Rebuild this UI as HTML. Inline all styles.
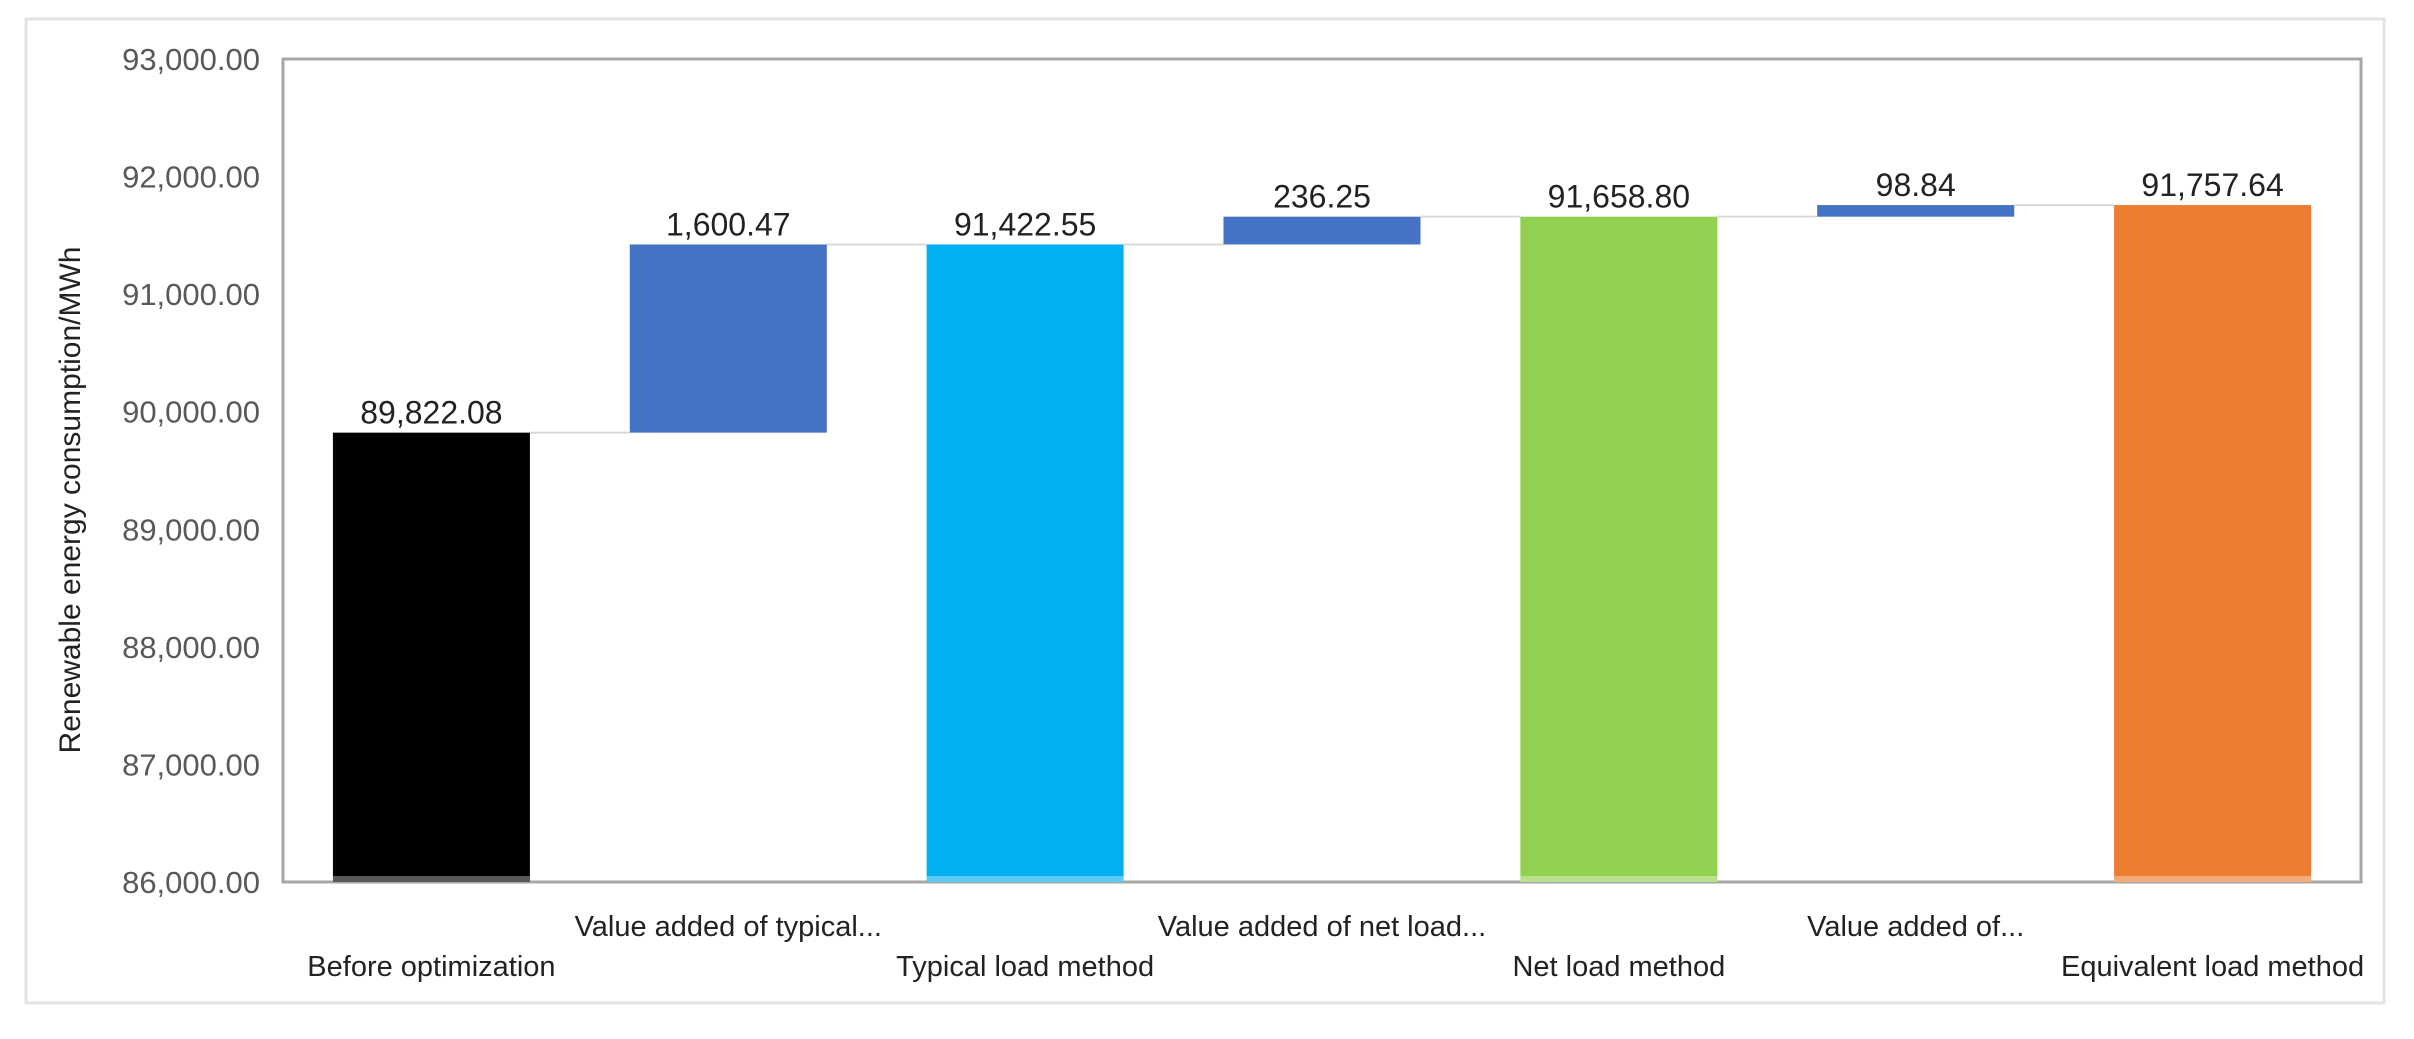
<!DOCTYPE html>
<html><head><meta charset="utf-8"><style>
html,body{margin:0;padding:0;background:#fff;}
svg{display:block;font-family:"Liberation Sans",sans-serif;}
</style></head><body>
<svg id="chart" width="2414" height="1039" viewBox="0 0 2414 1039">
<rect x="26" y="19" width="2358" height="984" fill="#fff" stroke="#e3e3e3" stroke-width="3"/>
<rect x="283" y="59" width="2078" height="823" fill="#fff" stroke="#a6a6a6" stroke-width="3"/>
<g id="grid"></g>
<g id="bars"></g>
<g id="labels"></g>
<text x="80" y="500" transform="rotate(-90 80 500)" text-anchor="middle" font-size="30" fill="#222">Renewable energy consumption/MWh</text>
</svg>
<script>
const categories=["Before optimization","Value added of typical...","Typical load method","Value added of net load...","Net load method","Value added of...","Equivalent load method"];
const values=[89822.08,1600.47,91422.55,236.25,91658.80,98.84,91757.64];
const isTotal=[true,false,true,false,true,false,true];
const valueLabels=["89,822.08","1,600.47","91,422.55","236.25","91,658.80","98.84","91,757.64"];
const colors=["#000000","#4472c4","#00b0f0","#4472c4","#92d050","#4472c4","#ed7d31"];
const yTicks=[86000,87000,88000,89000,90000,91000,92000,93000];
const yTickLabels=["86,000.00","87,000.00","88,000.00","89,000.00","90,000.00","91,000.00","92,000.00","93,000.00"];
const NS="http://www.w3.org/2000/svg";
const X0=283,X1=2361,Y0=882,Y1=59,YMIN=86000,YMAX=93000;
const y=v=>Y0-(v-YMIN)/(YMAX-YMIN)*(Y0-Y1);
const step=(X1-X0)/categories.length;
const cx=i=>X0+step*(i+0.5);
const BW=197;
function mk(tag,attrs,parent){const e=document.createElementNS(NS,tag);for(const k in attrs)e.setAttribute(k,attrs[k]);parent.appendChild(e);return e;}
const grid=document.getElementById('grid'),bars=document.getElementById('bars'),labels=document.getElementById('labels');
yTicks.forEach((t,i)=>{
  const tx=mk('text',{x:260,y:y(t)+11,'text-anchor':'end','font-size':31,fill:'#595959'},labels);
  tx.textContent=yTickLabels[i];
  
  
});
let run=0;const tops=[];
values.forEach((v,i)=>{
  let lo,hi;
  if(isTotal[i]){lo=YMIN;hi=v;run=v;}else{lo=run;hi=run+v;run=hi;}
  tops.push(hi);
  const r=mk('rect',{x:cx(i)-BW/2,y:y(hi),width:BW,height:y(lo)-y(hi),fill:colors[i]},bars);
  
  
  if(isTotal[i]){
    const s=mk('rect',{x:cx(i)-BW/2,y:Y0-6,width:BW,height:6,fill:'#ffffff','fill-opacity':0.35},bars);
    
    
  }
  const t=mk('text',{x:cx(i),y:y(hi)-9,'text-anchor':'middle','font-size':32,fill:'#222'},labels);
  t.textContent=valueLabels[i];
  
  
  const c=mk('text',{x:cx(i),y:(i%2===0)?976:936,'text-anchor':'middle','font-size':29,fill:'#222'},labels);
  c.textContent=categories[i];
  
  
});
for(let i=0;i<values.length-1;i++){
  const l=mk('line',{x1:cx(i)+BW/2,x2:cx(i+1)-BW/2,y1:y(tops[i]),y2:y(tops[i]),stroke:'#d9d9d9','stroke-width':2},grid);
  
  
}
</script>
</body></html>
